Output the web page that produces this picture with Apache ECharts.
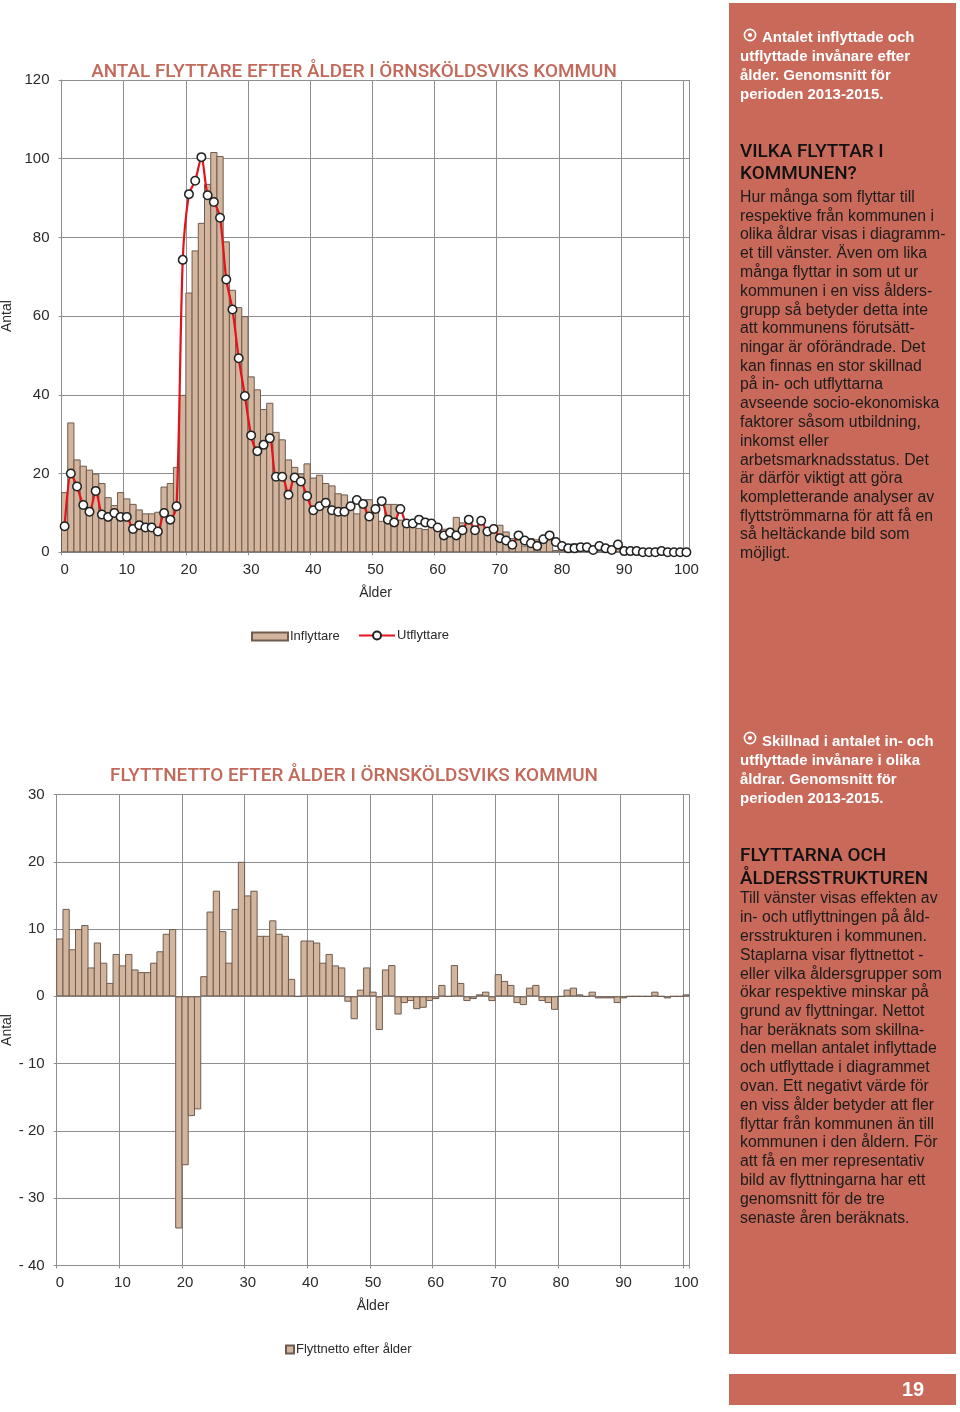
<!DOCTYPE html>
<html><head><meta charset="utf-8">
<style>html,body{margin:0;padding:0;background:#fff}#c{width:960px;height:1412px}</style>
<script src="https://cdn.jsdelivr.net/npm/echarts@6/dist/echarts.min.js"></script>
</head><body><div id="c"></div>
<script>
const ages = Array.from({length:101},(_, i)=>String(i));
const inflyttare = [15.3,33,23.6,22,21,20,17.6,14,12,15.3,13.7,12.3,10.9,9.9,9.9,10.3,16.7,17.6,21.7,40,
66,76.7,83.7,93.6,101.7,100.7,79,66.7,62.3,60,44.7,41.4,36.4,38,30.6,28.7,23.6,21.7,20,22.6,
19,19.7,17.6,17,15,14.7,11.6,9.9,13.4,13.5,11.7,8,12.3,12.3,8.3,6.5,6.6,6.2,5.9,6.6,
6,6,5,9,7.6,7.6,5.2,8.3,6,5.2,7,5.3,3.6,3.3,1.7,3.6,3.3,2.6,3.3,0.6,
1.6,2,2.3,1.6,1.3,1.3,1.3,0.7,0.3,1,0,0.3,0.3,0,0,0.7,0.3,0,0,0,0.3];
const utflyttare = [6.6,20,16.7,12,10.3,15.6,9.6,9,10,9,9,5.9,6.9,6.3,6.3,5.3,10,8.3,11.7,74.3,
91,94.4,100.4,90.7,89,85,69.3,61.7,49.3,39.7,29.7,25.7,27.3,29,19.2,19.2,14.6,19,18,14.3,
10.7,11.7,12.6,10.7,10.3,10.3,11.7,13.3,12.3,9.1,11,13,8.3,7.6,11,7.3,7.3,8.3,7.6,7.3,
6.3,4.3,5,4.3,5.6,8.3,5.6,8,5.3,5.9,3.6,3,1.9,4.3,3,2.3,1.6,3.3,4.3,2.6,
1.6,1,1,1.3,1.3,0.6,1.6,1,0.6,2,0.3,0.3,0.3,0,0,0,0.3,0,0,0,0];
const flyttnetto = [8.6,13,7,10,10.6,4.3,8,5,2,6.3,4.6,6.3,4,3.6,3.6,5,6.7,9.3,10,-34.5,
-25.1,-17.8,-16.8,3,12.6,15.7,9.7,5,13,20,15,15.7,9,9,11.3,9.3,9,2.6,0,8.3,
8.3,8,5,6.3,4.6,4.3,-0.8,-3.4,1,4.3,0.7,-5,4,4.65,-2.7,-1,-0.7,-1.9,-1.7,-0.7,
-0.4,1.7,0,4.65,2,-0.7,-0.4,0.3,0.7,-0.7,3.3,2.3,1.7,-1,-1.3,1.3,1.7,-0.7,-1,-2,
0,1,1.3,0.3,0,0.7,-0.3,-0.3,-0.3,-1,-0.3,0,0,0,0,0.7,0,-0.3,0,0,0.3];
const titleOne = 'ANTAL FLYTTARE EFTER ÅLDER I ÖRNSKÖLDSVIKS KOMMUN';
const titleTwo = 'FLYTTNETTO EFTER ÅLDER I ÖRNSKÖLDSVIKS KOMMUN';
const captionOne = ['Antalet inflyttade och','utflyttade invånare efter','ålder. Genomsnitt för','perioden 2013-2015.'];
const headOne = ['VILKA FLYTTAR I','KOMMUNEN?'];
const bodyOne = ['Hur många som flyttar till','respektive från kommunen i','olika åldrar visas i diagramm-','et till vänster. Även om lika','många flyttar in som ut ur','kommunen i en viss ålders-','grupp så betyder detta inte','att kommunens förutsätt-','ningar är oförändrade. Det','kan finnas en stor skillnad','på in- och utflyttarna','avseende socio-ekonomiska','faktorer såsom utbildning,','inkomst eller','arbetsmarknadsstatus. Det','är därför viktigt att göra','kompletterande analyser av','flyttströmmarna för att få en','så heltäckande bild som','möjligt.'];
const captionTwo = ['Skillnad i antalet in- och','utflyttade invånare i olika','åldrar. Genomsnitt för','perioden 2013-2015.'];
const headTwo = ['FLYTTARNA OCH','ÅLDERSSTRUKTUREN'];
const bodyTwo = ['Till vänster visas effekten av','in- och utflyttningen på åld-','ersstrukturen i kommunen.','Staplarna visar flyttnettot -','eller vilka åldersgrupper som','ökar respektive minskar på','grund av flyttningar. Nettot','har beräknats som skillna-','den mellan antalet inflyttade','och utflyttade i diagrammet','ovan. Ett negativt värde för','en viss ålder betyder att fler','flyttar från kommunen än till','kommunen i den åldern. För','att få en mer representativ','bild av flyttningarna har ett','genomsnitt för de tre','senaste åren beräknats.'];
const pageNumber = '19';

const FONT = '"Liberation Sans", sans-serif';
const HEAD = 'Roboto, "Liberation Sans", sans-serif';
const PANEL = '#C8695A', TITLE = '#C2695A', TXT = '#2a2a2a', GRID = '#8e8e8e';
const BAR = '#D2B59C', EDGE = '#6e5c50';

function T(x, y, s, o){ return {type:'text', x, y:y+2, silent:true, z:10, style:Object.assign({text:s, fontFamily:FONT, fontSize:15, fill:'#1c1c1c', textVerticalAlign:'middle', textBaseline:'middle'}, o||{})}; }
function lines(x, ys, arr, o){ return arr.map((s,i)=>T(x, ys[i], s, o)); }
function ring(cx, cy){ return [
  {type:'circle', shape:{cx,cy,r:5.6}, silent:true, z:10, style:{fill:'none', stroke:'#fff', lineWidth:1.6}},
  {type:'circle', shape:{cx,cy,r:2.1}, silent:true, z:10, style:{fill:'#fff'}} ]; }

const capStyle = {fill:'#fff', fontWeight:'bold', fontSize:15};
const headStyle = {fill:'#111', fontFamily:HEAD, fontWeight:500, fontSize:18.9};
const bodyStyle = {fill:'#1c1c1c', fontSize:15.8};
const ysBody1 = [196,214.5,233,252,271,290,308.5,327,346,364.5,383,402,421,439.5,458.5,477,496,515,533,552];
const ysBody2 = [897,916,935,954,973,991,1010,1029,1047,1066,1085,1104,1123,1141,1160,1179,1198,1217];

const graphic = [
  {type:'rect', shape:{x:729,y:3,width:227,height:1351}, silent:true, z:5, style:{fill:PANEL}},
  {type:'rect', shape:{x:729,y:1374,width:227,height:31}, silent:true, z:5, style:{fill:PANEL}},
  ...ring(750,35),
  T(762,36,captionOne[0],capStyle),
  ...lines(740,[55,74,93],captionOne.slice(1),capStyle),
  ...lines(740,[150,172],headOne,headStyle),
  ...lines(740,ysBody1,bodyOne,bodyStyle),
  ...ring(750,738),
  T(762,740,captionTwo[0],capStyle),
  ...lines(740,[759,778,797],captionTwo.slice(1),capStyle),
  ...lines(740,[854,877],headTwo,headStyle),
  ...lines(740,ysBody2,bodyTwo,bodyStyle),
  T(913,1388,pageNumber,{fill:'#fff',fontWeight:'bold',fontSize:20,textAlign:'center',align:'center'}),
  T(354,70,titleOne,{fill:TITLE,fontFamily:HEAD,fontWeight:500,fontSize:18.9,textAlign:'center',align:'center'}),
  T(354,774,titleTwo,{fill:TITLE,fontFamily:HEAD,fontWeight:500,fontSize:18.9,textAlign:'center',align:'center'})
];

function xAxis(gridIndex){ return {
  type:'category', gridIndex, data:ages, boundaryGap:true, position:'bottom',
  name:'Ålder', nameLocation:'middle', nameGap:34, nameTextStyle:{fontFamily:FONT,fontSize:14,color:TXT},
  axisLine:{show:true,onZero:false,lineStyle:{color:GRID,width:1}},
  axisTick:{show:true,interval:9,length:3,lineStyle:{color:GRID}},
  axisLabel:{interval:9,fontFamily:FONT,fontSize:15,color:TXT,margin:10,hideOverlap:false},
  splitLine:{show:true,interval:9,lineStyle:{color:GRID,width:1}}
};}
function yAxis(gridIndex,min,max,fmt,gap,pad){ return {
  type:'value', gridIndex, min, max, interval:max>50?20:10,
  name:'Antal', nameLocation:'middle', nameGap:gap, nameRotate:90, nameMoveOverlap:false,
  nameTextStyle:{fontFamily:FONT,fontSize:14,color:TXT},
  axisLine:{show:true,lineStyle:{color:GRID,width:1}},
  axisTick:{show:true,length:3,lineStyle:{color:GRID}},
  axisLabel:{fontFamily:FONT,fontSize:15,color:TXT,margin:12,padding:pad,formatter:fmt},
  splitLine:{show:true,lineStyle:{color:GRID,width:1}}
};}
const barStyle = {color:BAR,borderColor:EDGE,borderWidth:1};
const legendText = {fontFamily:FONT,fontSize:13,color:TXT,padding:[2,0,0,-3]};

const option = {
  animation:false, backgroundColor:'#fff', graphic,
  grid:[
    {left:61.5,top:80,width:628,height:472.3,outerBoundsMode:'none'},
    {left:56.7,top:794.5,width:632.6,height:471,outerBoundsMode:'none'}
  ],
  xAxis:[xAxis(0),xAxis(1)],
  yAxis:[
    yAxis(0,0,120,v=>String(v),47.5,[2,0,0,0]),
    yAxis(1,-40,30,v=>v<0?'- '+Math.abs(v):String(v),43,[0,0,0,0])
  ],
  legend:[
    {data:[{name:'Inflyttare',icon:'rect'}],left:246,top:625,itemWidth:36,itemHeight:8,textStyle:legendText,selectedMode:false},
    {data:[{name:'Utflyttare'}],left:353,top:624,itemWidth:36,itemHeight:10,textStyle:legendText,selectedMode:false},
    {data:[{name:'Flyttnetto efter ålder',icon:'rect'}],left:280,top:1338,itemWidth:8,itemHeight:8,textStyle:legendText,selectedMode:false}
  ],
  series:[
    {name:'Inflyttare',type:'bar',xAxisIndex:0,yAxisIndex:0,data:inflyttare,barWidth:'116%',itemStyle:barStyle,z:2},
    {name:'Utflyttare',type:'line',xAxisIndex:0,yAxisIndex:0,data:utflyttare,smooth:0.25,
     lineStyle:{color:'#E0141C',width:2.2},symbol:'circle',symbolSize:8.5,showAllSymbol:true,
     itemStyle:{color:'#fff',borderColor:'#222',borderWidth:1.5},z:3},
    {name:'Flyttnetto efter ålder',type:'bar',xAxisIndex:1,yAxisIndex:1,data:flyttnetto,barWidth:'116%',itemStyle:barStyle,z:2}
  ]
};
const chart = echarts.init(document.getElementById('c'),null,{renderer:'canvas',width:960,height:1412});
chart.setOption(option);
</script></body></html>
